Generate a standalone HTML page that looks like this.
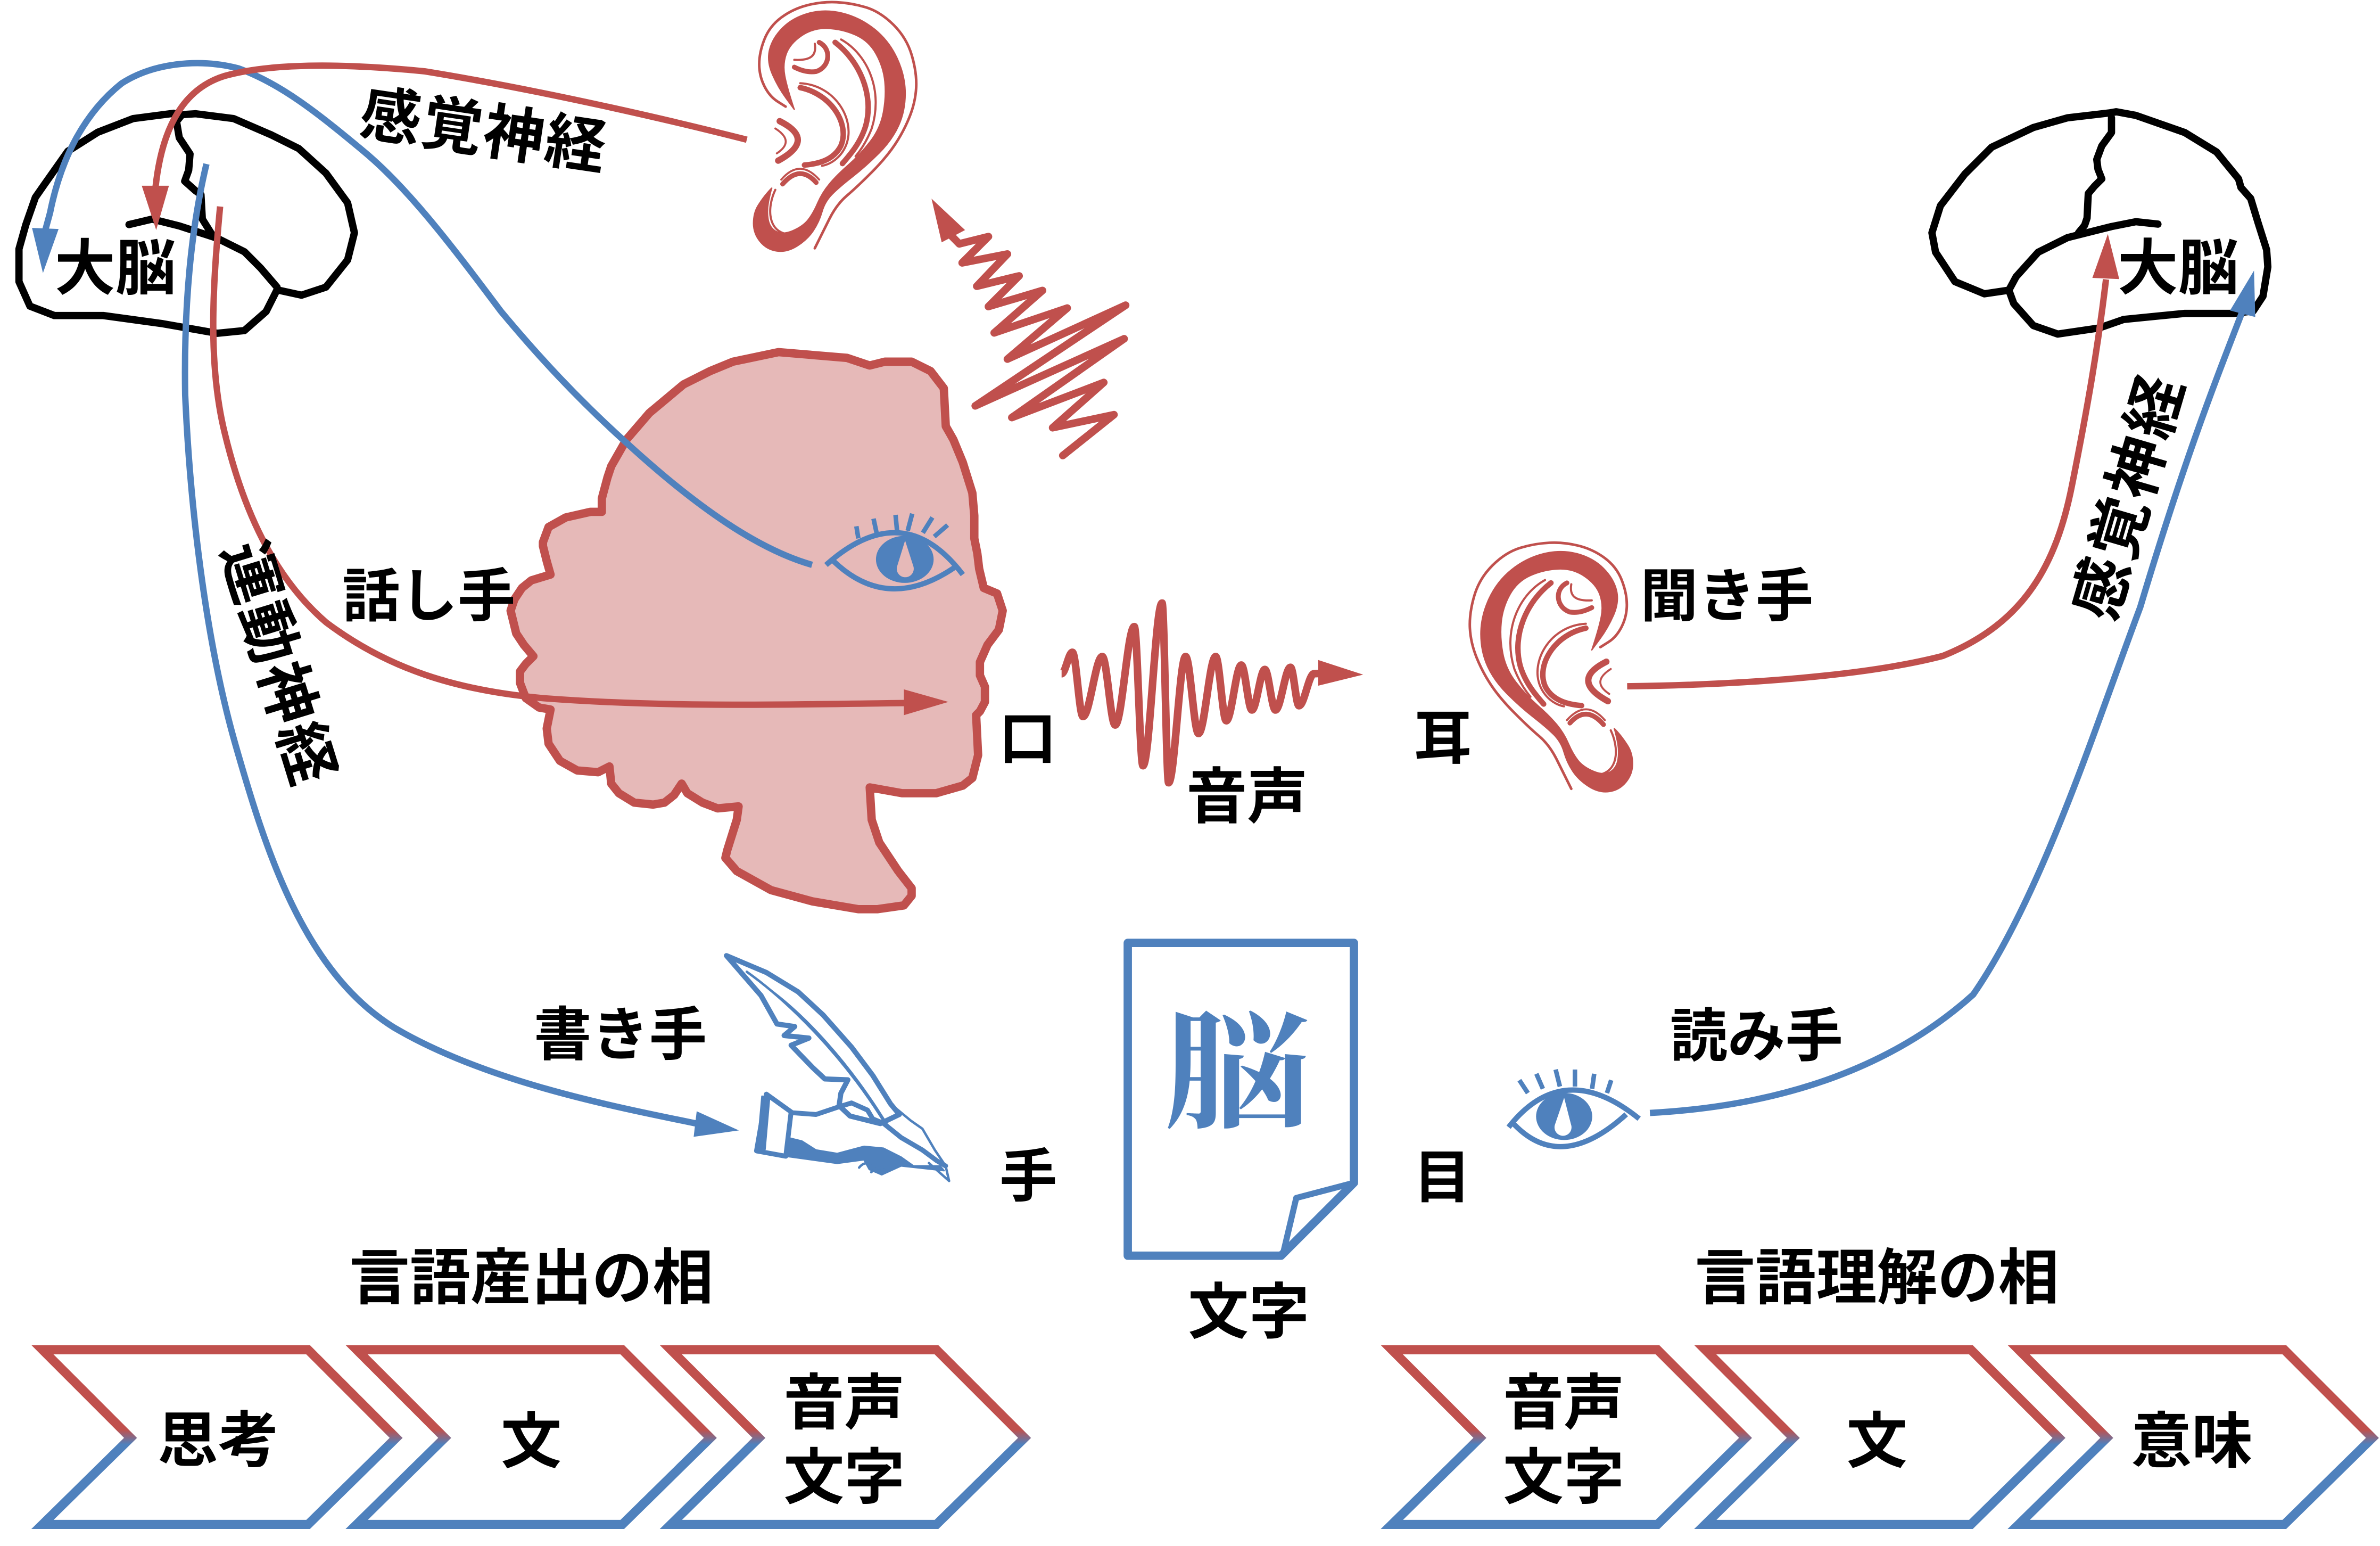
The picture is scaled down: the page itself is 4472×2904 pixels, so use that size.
<!DOCTYPE html>
<html><head><meta charset="utf-8"><style>
html,body{margin:0;padding:0;background:#fff;}
svg{display:block;}
text{font-family:"Liberation Sans","Noto Sans CJK JP",sans-serif;font-weight:700;fill:#000;}
</style></head><body>
<svg width="4472" height="2904" viewBox="0 0 1568 1018.2" xmlns="http://www.w3.org/2000/svg">
<defs>
<linearGradient id="cg" gradientUnits="userSpaceOnUse" x1="0" y1="886" x2="0" y2="1007">
<stop offset="0" stop-color="#C0504D"/><stop offset="0.46" stop-color="#C0504D"/>
<stop offset="0.54" stop-color="#4F81BD"/><stop offset="1" stop-color="#4F81BD"/>
</linearGradient>
</defs>
<rect width="1568" height="1018.2" fill="#fff"/>

<!-- Left brain -->
<g fill="none" stroke="#000" stroke-width="4.8" stroke-linejoin="round" stroke-linecap="round">
<polyline points="114.5,74.6 87.7,78.1 64.4,87.1 44.7,99.6 29.5,121.1 23.3,130 17,148 12.5,164 12.5,185.5 19.7,201.6 35.8,207.8 68,207.8 107.3,213.2 143.1,219.5 161,217.7 175.3,205.2 182.5,190.9 198.6,194.4 214.7,189.1 229,171.2 233.5,153.3 229,133.6 214.7,114 196.8,97.8 178.9,88.9 153.9,78.1 128.8,74.9 119.9,75.5 116.3,80 118.1,90.7 125.2,101.4 124.3,112.1 121.7,119.3 128.8,125.6 132.4,128.2 133.3,144.3 139.5,154.2"/>
<polyline points="85,147.9 100.2,144.3 118.1,148.8 143.1,156.9 161,165.8 171.7,176.5 182.5,189.1"/>
</g>
<!-- Right brain -->
<g fill="none" stroke="#000" stroke-width="4.8" stroke-linejoin="round" stroke-linecap="round">
<polyline points="1389.5,74.4 1362.1,77.6 1339.6,84 1312.2,96.9 1294.5,114.6 1278.4,135.5 1272.8,153.3 1275.2,166.1 1288,185.5 1307.4,193.5 1323.5,191.1 1326.7,199.9 1339.6,214.4 1355.7,220 1383,216 1399.1,210.4 1439.4,206.4 1471.6,206.4 1484.5,204.8 1490.9,195.1 1494.1,175.8 1493.3,164.5 1487.7,146.8 1482.8,130.7 1476.4,123.5 1474.8,117.8 1460.3,100.1 1439.4,87.3 1407.2,76 1394.3,73.6 1389.5,74.4"/>
<polyline points="1391.1,77.6 1391.1,87.3 1384.7,96.1 1381.4,105 1382.2,111.4 1384.7,117.8 1379.8,122.7 1375.8,127.5 1375,143.6 1373.4,148.4 1369.4,153.3"/>
<polyline points="1323.5,191.1 1328.3,182.2 1342.8,166.1 1362.1,156.5 1391.1,149.2 1407.2,146 1421.7,147.6"/>
</g>

<!-- Head -->
<polygon fill="#E6B9B8" stroke="#C0504D" stroke-width="5.5" stroke-linejoin="round" points="482.9,238.2 512.9,231.9 558,235.7 573,240.7 583,238.2 600.6,238.2 613.1,244.4 621.8,255.7 623.1,280.7 628.1,289.5 634.3,304.5 640.6,324.6 641.9,339.6 641.9,354.6 643.9,364.6 645.1,374.6 648.1,387.2 656.9,390.9 660.6,402.2 658.1,414.7 650.6,424.7 645.6,436 645.6,444.8 648.9,452.3 648.9,462.3 645.6,468.5 643.1,471 644.4,497.3 640.6,512.4 634.3,517.4 616.8,522.4 594.3,522.4 573,518.6 574.3,539.9 579.3,554.9 591.8,573.7 600.6,585 600.6,590 595.5,596.3 578,598.8 565.5,598.8 535.4,593.7 507.9,586.2 485.4,573.7 477.9,565 479.1,560 485.4,539.9 486.6,531.1 472.8,532.4 462.8,528.6 452.8,522.4 449.1,516.1 444.1,523.6 437.8,528.6 430.3,529.9 417.8,528.6 407.7,522.4 402.7,516.1 401.5,504.8 394,508.6 380.2,507.4 368.9,501.1 361.4,489.8 360.2,479.8 362.7,467.3 355.2,466 346.4,459.8 342.6,449.8 342.6,442.2 346.4,437.2 351.4,432.2 345.1,424.7 340.1,417.2 336.4,402.2 338.9,394.7 343.9,387.2 350.1,382.2 362.7,378.4 360.2,369.6 357.7,359.6 357.7,357.1 361.4,347.1 372.7,340.8 389,337.1 396.5,337.1 396.5,328.3 400.2,314.5 402.7,307 412.7,289.5 427.8,272 450.3,253.2 467.8,244.4"/>

<!-- Connectors -->
<g fill="none" stroke-width="4.2" stroke-linecap="butt">
<path stroke="#4F81BD" d="M535,372 C500,362 460,335 412,291 C380,262 355,235 330,205 C300,165 270,125 240,100 C210,75 185,55 157,45 C130,38 100,42 80,55 C55,75 40,105 33,140 L30,151"/>
<path stroke="#C0504D" d="M492,92 C445,80 360,60 280,47 C230,42 180,41 148,50 C122,58 107,82 102.5,123"/>
<path stroke="#4F81BD" d="M136,108 C126,150 121,200 122,260 C125,330 135,420 155,490 C175,560 200,640 260,677 C320,712 400,728 459,740"/>
<path stroke="#C0504D" d="M145,136 C140,190 137,240 148,285 C160,335 180,380 215,410 C255,440 300,455 360,460 C440,466 520,464 597,463"/>
<path stroke="#C0504D" d="M1072,452 C1150,451 1230,445 1280,432 C1335,410 1355,370 1365,320 C1375,270 1382,230 1387.5,184"/>
<path stroke="#4F81BD" d="M1087,733 C1180,728 1250,700 1300,655 C1345,590 1380,480 1410,400 C1440,300 1460,250 1477,206"/>
</g>
<!-- Arrowheads -->
<polygon fill="#4F81BD" points="21.1,150.1 38.6,150.8 28.3,179.8"/>
<polygon fill="#C0504D" points="93.4,122.3 111.3,122.3 102.9,151.5"/>
<polygon fill="#C0504D" points="595.5,454 595.5,471 624.8,462.3"/>
<polygon fill="#4F81BD" points="459,731.9 457,748.7 486.8,744.5"/>
<polygon fill="#C0504D" points="1378.5,183 1396.2,183.8 1388.7,154.1"/>
<polygon fill="#4F81BD" points="1469.2,204.5 1485.8,208.8 1485,178.2"/>

<!-- Head eye -->
<g fill="none" stroke="#4F81BD" stroke-width="3.5" stroke-linecap="butt">
<path d="M544.2,372.1 Q595,326.6 634.3,378.4"/>
<path d="M549.2,369.6 Q585,404 629.3,373.4"/>
<g stroke-width="3">
<line x1="565.5" y1="354.6" x2="564.2" y2="346.6"/>
<line x1="577.5" y1="350.9" x2="575.5" y2="341.6"/>
<line x1="591" y1="349.6" x2="590" y2="339.1"/>
<line x1="598" y1="349.6" x2="601" y2="338.3"/>
<line x1="608" y1="350.9" x2="614.3" y2="340.8"/>
<line x1="615.5" y1="353.4" x2="624.3" y2="345.8"/>
</g>
</g>
<ellipse cx="596.1" cy="368.4" rx="19" ry="15.5" fill="#4F81BD"/>
<path fill="#E6B9B8" d="M596.3,356 L591.2,372.5 A5.6,5.6 0 1 0 601.6,372.5 Z"/>

<!-- Right eye -->
<g fill="none" stroke="#4F81BD" stroke-width="3.5" stroke-linecap="butt">
<path d="M993.9,742.4 Q1030,696.4 1079.9,736.8"/>
<path d="M996.7,739.6 Q1028,773.4 1071.4,733.9"/>
<g stroke-width="3">
<line x1="1006.6" y1="719.9" x2="1001" y2="711.4"/>
<line x1="1016.5" y1="717.1" x2="1012.2" y2="707.2"/>
<line x1="1027.7" y1="715.6" x2="1024.9" y2="704.4"/>
<line x1="1037.6" y1="715.6" x2="1037.6" y2="704.4"/>
<line x1="1048.9" y1="717.1" x2="1050.3" y2="707.2"/>
<line x1="1058.7" y1="719.9" x2="1061.5" y2="711.4"/>
</g>
</g>
<ellipse cx="1030.5" cy="735.3" rx="18.5" ry="15.5" fill="#4F81BD"/>
<path fill="#fff" d="M1030.5,723 L1024.5,740.5 A5.6,5.6 0 1 0 1035,740.5 Z"/>

<!-- Top ear -->
<g>
<path fill="none" stroke="#C0504D" stroke-width="1.7" stroke-linecap="round" d="M536.8,163.5 Q541.6,153.8 546.4,144.2 Q551.2,134.6 557.95,128.85 Q564.7,123.1 574.3,113.45 Q583.9,103.8 589.65,95.15 Q595.4,86.5 599.25,76.9 Q603.1,67.3 603.6,57.7 Q604.1,48.1 600.75,36.55 Q597.4,25 588.7,16.35 Q580,7.7 570.4,4.8 Q560.8,1.9 551.2,1.45 Q541.6,1 532,3.4 Q522.4,5.8 514.7,11.55 Q507,17.3 503.6,25.95 Q500.2,34.6 500.2,42.3 Q500.2,50 503.6,56.75 Q507,63.5 512.3,66.85 L517.6,70.2"/>
<path fill="#C0504D" stroke="#C0504D" stroke-width="0.8" stroke-linejoin="round" d="M508.45,124.05 Q508.9,123.1 505.55,126.95 Q502.2,130.8 499.3,135.6 Q496.4,140.4 496.4,147.1 Q496.4,153.8 500.75,159.1 Q505.1,164.4 511.8,165.35 Q518.5,166.3 525.25,162 Q532,157.7 535.85,151.9 Q539.7,146.1 541.6,139.4 Q543.5,132.7 548.3,127.9 Q553.1,123.1 561.75,116.35 Q570.4,109.6 579.05,100.95 Q587.7,92.3 592.05,82.7 Q596.4,73.1 596.4,61.55 Q596.4,50 591.1,38.45 Q585.8,26.9 576.2,19.2 Q566.6,11.5 555.05,8.65 Q543.5,5.8 532.95,8.65 Q522.4,11.5 515.65,18.25 Q508.9,25 507,32.7 Q505.1,40.4 508.9,49.05 Q512.7,57.7 518,64.9 L523.3,72.1 Q518.5,57.7 517.05,50 Q515.6,42.3 518,35.55 Q520.4,28.8 528.1,23.55 Q535.8,18.3 545.4,18.75 Q555,19.2 563.7,23.05 Q572.4,26.9 577.2,35.55 Q582,44.2 582.95,53.85 Q583.9,63.5 581.95,74.05 Q580,84.6 573.3,93.25 Q566.6,101.9 558.9,108.65 Q551.2,115.4 546.4,121.15 Q541.6,126.9 538.7,133.65 Q535.8,140.4 532.45,144.7 Q529.1,149 522.35,151.9 Q515.6,154.8 511.3,152.4 Q507,150 506.05,144.25 Q505.1,138.5 506.55,131.75 Q508,125 508.45,124.05 Z"/>
<g fill="none" stroke="#C0504D" stroke-linecap="round" stroke-linejoin="round">
<path stroke-width="3.6" d="M550.2,27.9 C566,40 576,62 570.4,82.7 C567,94 560,102 555,107.7"/>
<path stroke-width="1.4" d="M554.1,26 C572,36 582,60 574.3,84.6 C571,93 567,99 563.7,102.9"/>
<path stroke-width="3.6" d="M527.2,57.7 C548,62 560,82 554,96 C549,106 538,108 530,108.7"/>
<path stroke-width="1.4" d="M527.2,54.8 C550,56 563,78 558,94 C555,103 548,108 541.6,109.2"/>
<path stroke-width="3.2" d="M539.7,27.9 C548,32 547,44 537.7,47.1 C532,48 527,46 523.3,44.2"/>
<path stroke-width="1.4" d="M536.8,28.8 C538,36 535,40 523.3,39.4"/>
<path stroke-width="4.2" d="M513.7,79.8 Q538,92 512.7,105.8"/>
<path stroke-width="1.3" d="M510.8,84.6 Q524,93 511.8,101"/>
<path stroke-width="3.2" d="M515.6,121.2 Q527,108 537.7,120.2"/>
<path stroke-width="1.3" d="M514.7,118.3 Q527,104 539.7,118.3"/>
<path stroke-width="1.4" d="M510.8,125 C506,135 505,150 516.6,153.8 C521,155 526,152 529.1,149"/>
</g>
</g>
<!-- Right ear (mirror) -->
<g transform="translate(1572,356) scale(-1,1)">
<path fill="none" stroke="#C0504D" stroke-width="1.7" stroke-linecap="round" d="M536.8,163.5 Q541.6,153.8 546.4,144.2 Q551.2,134.6 557.95,128.85 Q564.7,123.1 574.3,113.45 Q583.9,103.8 589.65,95.15 Q595.4,86.5 599.25,76.9 Q603.1,67.3 603.6,57.7 Q604.1,48.1 600.75,36.55 Q597.4,25 588.7,16.35 Q580,7.7 570.4,4.8 Q560.8,1.9 551.2,1.45 Q541.6,1 532,3.4 Q522.4,5.8 514.7,11.55 Q507,17.3 503.6,25.95 Q500.2,34.6 500.2,42.3 Q500.2,50 503.6,56.75 Q507,63.5 512.3,66.85 L517.6,70.2"/>
<path fill="#C0504D" stroke="#C0504D" stroke-width="0.8" stroke-linejoin="round" d="M508.45,124.05 Q508.9,123.1 505.55,126.95 Q502.2,130.8 499.3,135.6 Q496.4,140.4 496.4,147.1 Q496.4,153.8 500.75,159.1 Q505.1,164.4 511.8,165.35 Q518.5,166.3 525.25,162 Q532,157.7 535.85,151.9 Q539.7,146.1 541.6,139.4 Q543.5,132.7 548.3,127.9 Q553.1,123.1 561.75,116.35 Q570.4,109.6 579.05,100.95 Q587.7,92.3 592.05,82.7 Q596.4,73.1 596.4,61.55 Q596.4,50 591.1,38.45 Q585.8,26.9 576.2,19.2 Q566.6,11.5 555.05,8.65 Q543.5,5.8 532.95,8.65 Q522.4,11.5 515.65,18.25 Q508.9,25 507,32.7 Q505.1,40.4 508.9,49.05 Q512.7,57.7 518,64.9 L523.3,72.1 Q518.5,57.7 517.05,50 Q515.6,42.3 518,35.55 Q520.4,28.8 528.1,23.55 Q535.8,18.3 545.4,18.75 Q555,19.2 563.7,23.05 Q572.4,26.9 577.2,35.55 Q582,44.2 582.95,53.85 Q583.9,63.5 581.95,74.05 Q580,84.6 573.3,93.25 Q566.6,101.9 558.9,108.65 Q551.2,115.4 546.4,121.15 Q541.6,126.9 538.7,133.65 Q535.8,140.4 532.45,144.7 Q529.1,149 522.35,151.9 Q515.6,154.8 511.3,152.4 Q507,150 506.05,144.25 Q505.1,138.5 506.55,131.75 Q508,125 508.45,124.05 Z"/>
<g fill="none" stroke="#C0504D" stroke-linecap="round" stroke-linejoin="round">
<path stroke-width="3.6" d="M550.2,27.9 C566,40 576,62 570.4,82.7 C567,94 560,102 555,107.7"/>
<path stroke-width="1.4" d="M554.1,26 C572,36 582,60 574.3,84.6 C571,93 567,99 563.7,102.9"/>
<path stroke-width="3.6" d="M527.2,57.7 C548,62 560,82 554,96 C549,106 538,108 530,108.7"/>
<path stroke-width="1.4" d="M527.2,54.8 C550,56 563,78 558,94 C555,103 548,108 541.6,109.2"/>
<path stroke-width="3.2" d="M539.7,27.9 C548,32 547,44 537.7,47.1 C532,48 527,46 523.3,44.2"/>
<path stroke-width="1.4" d="M536.8,28.8 C538,36 535,40 523.3,39.4"/>
<path stroke-width="4.2" d="M513.7,79.8 Q538,92 512.7,105.8"/>
<path stroke-width="1.3" d="M510.8,84.6 Q524,93 511.8,101"/>
<path stroke-width="3.2" d="M515.6,121.2 Q527,108 537.7,120.2"/>
<path stroke-width="1.3" d="M514.7,118.3 Q527,104 539.7,118.3"/>
<path stroke-width="1.4" d="M510.8,125 C506,135 505,150 516.6,153.8 C521,155 526,152 529.1,149"/>
</g>
</g>

<!-- Zigzag sound wave to ear -->
<polyline fill="none" stroke="#C0504D" stroke-width="5" stroke-linejoin="round" stroke-linecap="round" points="627,155.5 632,160.6 651.2,155.8 633.9,173.1 663.7,167.3 643.5,188.5 671.4,181.7 651.2,201.9 686.8,191.3 655,219.2 703.1,202.9 663.7,236.5 741.6,201 642.5,267.3 740.6,223.1 666.6,275 727.2,251.9 693.5,281.7 733.9,273.1 700.2,300"/>
<polygon fill="#C0504D" points="613.7,130.8 620.4,159.6 635.8,151.5"/>

<!-- Horizontal wave -->
<path fill="none" stroke="#C0504D" stroke-width="5" stroke-linejoin="round" stroke-linecap="butt" d="M699.4,443.7 C701.9,443.7 704,429.6 706.5,429.6 C709,429.6 711,471.9 713.5,471.9 C717.9,471.9 721.8,432.4 726.2,432.4 C729.2,432.4 731.7,477.5 734.7,477.5 C739.1,477.5 742.9,412.7 747.3,412.7 C749.3,412.7 751,504.3 753,504.3 C757.4,504.3 761.2,397.2 765.6,397.2 C767.1,397.2 768.4,515.5 769.9,515.5 C773.8,515.5 777.2,432.4 781.1,432.4 C784.1,432.4 786.6,483.1 789.6,483.1 C793.6,483.1 796.9,432.4 800.9,432.4 C803.4,432.4 805.4,474.7 807.9,474.7 C811.4,474.7 814.3,438 817.8,438 C820.3,438 822.3,467.6 824.8,467.6 C827.8,467.6 830.3,440.9 833.3,440.9 C835.8,440.9 837.8,467.6 840.3,467.6 C843.8,467.6 846.7,439.5 850.2,439.5 C852.2,439.5 853.8,464.8 855.8,464.8 C859.3,464.8 862.2,443.7 865.7,443.7 L870,443.5"/>
<polygon fill="#C0504D" points="868.5,434.7 868.5,451.6 898.1,444.3"/>

<!-- Quill hand -->
<g stroke="#4F81BD" stroke-linejoin="round" stroke-linecap="round">
<polygon fill="#fff" stroke-width="3.4" points="478.6,629.4 504.9,640.5 525.9,653.3 542.3,668.5 561,689.6 575,708.3 586.7,727 592.5,734 580,740 560,735 552.8,728.2 554,720 558.6,711.2 543.4,710.6 535.3,703 521.2,688.4 532.9,683.7 516.6,682 523.6,676.1 511.9,674.4 501.4,655.7"/>
<path fill="none" stroke-width="1.6" d="M492,640 C520,660 555,695 582,738"/>
<path fill="none" stroke-width="1.2" d="M505,650 C530,668 560,700 586,743"/>
<polyline fill="none" stroke-width="1.6" points="586.7,727 600,738 607.7,743.4 615.9,757.4 623,767.9 625.3,777.8 612,766"/>
<polygon fill="#fff" stroke-width="3.2" points="504.9,720.6 498.4,758 517.7,761.5 521.2,732.3"/>
<polyline fill="none" stroke-width="3.2" points="521.2,732.8 537.6,734 551.6,729.3 561,726.4 571.5,731.1 575,736.9 582,739.8 593.7,749.2 607.7,757.4 617.1,764.4 623,767.9"/>
<polygon fill="#4F81BD" stroke-width="1" points="518.9,749.2 528.3,751.5 537.6,757.4 551.6,759.7 569.2,755 582,756.2 593.7,762.1 601.9,767.9 619.4,767.9 622,771 593.7,767.9 580.9,773.7 572.7,770.2 569.2,763.8 551.6,766.2 517.7,761.5"/>
<path fill="none" stroke-width="1.6" d="M566,769 q4,-5 8,-1 M574,772 q5,-5 9,-1"/>
<polygon fill="#4F81BD" stroke-width="1" points="499,756 502,722 507,723 504,757"/>
</g>

<!-- Document -->
<path d="M743,621 H892 V779 L844,827 H743 Z" fill="#fff" stroke="#4F81BD" stroke-width="5.5" stroke-linejoin="round"/>
<path d="M892,779 L854,789 L845,827" fill="none" stroke="#4F81BD" stroke-width="4" stroke-linejoin="round"/>
<text transform="translate(815,705) scale(1.15,1)" x="0" y="31" text-anchor="middle" style="font-family:'Noto Serif CJK SC',serif;font-weight:700;fill:#4F81BD;font-size:84px;">脳</text>

<!-- Chevrons -->
<g fill="#fff" stroke="url(#cg)" stroke-width="6" stroke-linejoin="miter">
<polygon points="28,889 203,889 261,947 203,1004 28,1004 86,947"/>
<polygon transform="translate(207,0)" points="28,889 203,889 261,947 203,1004 28,1004 86,947"/>
<polygon transform="translate(414,0)" points="28,889 203,889 261,947 203,1004 28,1004 86,947"/>
<polygon transform="translate(889,0)" points="28,889 203,889 261,947 203,1004 28,1004 86,947"/>
<polygon transform="translate(1095.5,0)" points="28,889 203,889 261,947 203,1004 28,1004 86,947"/>
<polygon transform="translate(1302,0)" points="28,889 203,889 261,947 203,1004 28,1004 86,947"/>
</g>

<!-- Labels -->
<g text-anchor="middle" font-size="40">
<text x="76" y="190.8">大脳</text>
<text x="1435" y="190.6">大脳</text>
<text x="282.5" y="405.8" font-size="38">話し手</text>
<text x="1137.7" y="405.8" font-size="38">聞き手</text>
<text x="677" y="499.8" font-size="38">口</text>
<text x="821.6" y="538.7">音声</text>
<text x="950.6" y="499.6" font-size="38">耳</text>
<text x="408.7" y="694.8" font-size="38">書き手</text>
<text x="1157.2" y="695.6" font-size="38">読み手</text>
<text x="677.5" y="788.1" font-size="38">手</text>
<text x="950.2" y="788.7" font-size="38">目</text>
<text x="822.7" y="878.2">文字</text>
<text x="350" y="855.5">言語産出の相</text>
<text x="1236.5" y="855.5">言語理解の相</text>
<text x="143.7" y="962.6">思考</text>
<text x="350" y="963.4">文</text>
<text x="556.2" y="938">音声</text>
<text x="556.2" y="987">文字</text>
<text x="1030.2" y="938">音声</text>
<text x="1030.2" y="987">文字</text>
<text x="1236.5" y="963.2">文</text>
<text x="1444" y="963.2">意味</text>
<text transform="translate(319,85) rotate(8.4)" x="0" y="15" letter-spacing="1">感覚神経</text>
<text transform="translate(184.5,436.8) rotate(72.9)" x="0" y="15" letter-spacing="1.5">運動神経</text>
<text transform="translate(1401.5,326.8) rotate(-73.7)" x="0" y="15" letter-spacing="1.5">感覚神経</text>
</g>
</svg>
</body></html>
